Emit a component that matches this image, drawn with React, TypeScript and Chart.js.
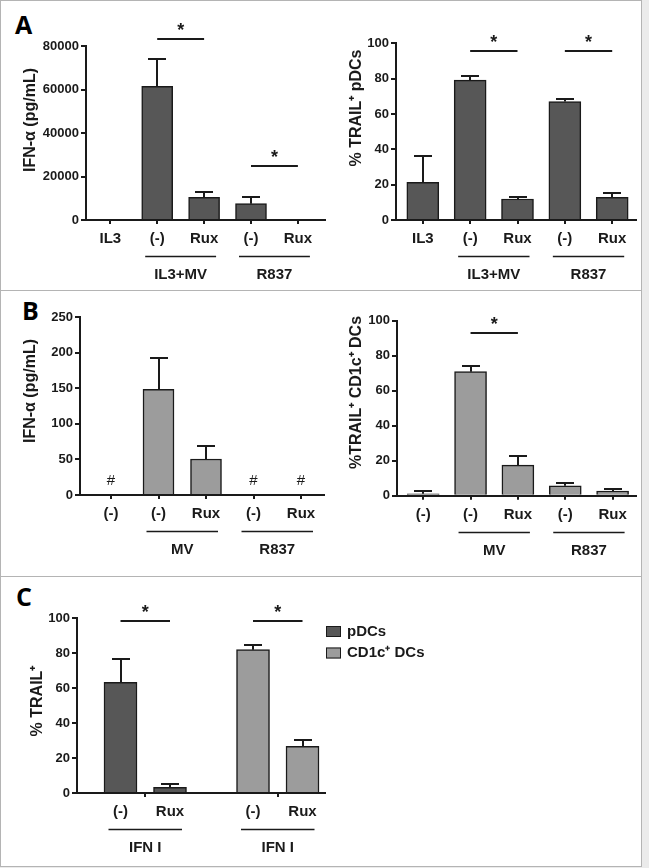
import React, { useEffect, useRef } from "react";
import { Chart, registerables } from "chart.js";

Chart.register(...registerables);

// ---------- data ----------
const A_LABELS = ["IL3", "(-)", "Rux", "(-)", "Rux"];
const A_GROUPS = ["IL3+MV", "R837"];
const A1_VALUES = [200, 61500, 10400, 7500, 200];
const A1_ERRORS = [0, 12500, 2600, 2900, 0];
const A1_TICKS = [0, 20000, 40000, 60000, 80000];
const A1_SIG_LEVELS = [83000, 25000];
const A2_VALUES = [21.3, 79.2, 11.9, 67, 12.8];
const A2_ERRORS = [14.9, 2.3, 1.1, 1.3, 2.3];
const A2_SIG_LEVELS = [95.6, 95.6];
const PCT_TICKS = [0, 20, 40, 60, 80, 100];

const B_LABELS = ["(-)", "(-)", "Rux", "(-)", "Rux"];
const B_GROUPS = ["MV", "R837"];
const B1_VALUES = [null, 148.7, 50.7, null, null];
const B1_ERRORS = [0, 44.5, 17.8, 0, 0];
const B1_NOT_DETECTED = [0, 3, 4];
const B1_TICKS = [0, 50, 100, 150, 200, 250];
const B2_VALUES = [1.1, 70.9, 17.5, 5.7, 2.7];
const B2_ERRORS = [1.6, 3.2, 5.2, 1.7, 1.1];
const B2_SIG_LEVELS = [93.1];

const C_LABELS = ["(-)", "Rux"];
const C_GROUP_LABEL = "IFN I";
const C_SERIES = ["pDCs", "CD1c\u207A DCs"];
const C_PDC_VALUES = [63.2, 3.2];
const C_PDC_ERRORS = [13.6, 1.9];
const C_CD1C_VALUES = [81.9, 26.7];
const C_CD1C_ERRORS = [2.9, 3.4];
const C_SIG_LEVELS = [98.3, 98.3];

// ---------- styles ----------
const FONT = "'Liberation Sans', Arial, sans-serif";
const INK = "#1a1a1a";
const DARK = "#575757";
const LIGHT = "#9c9c9c";
const CAP = 9;

type Geo = {
  x: number; y: number; w: number; h: number;
  left: number; right: number; top: number; bottom: number;
  first: number; step: number; bar: number;
};

type Spec = {
  geo: Geo;
  xs: number[];
  labels: string[];
  datasets: { label: string; values: (number | null)[]; errors: number[]; color: string }[];
  yMax: number;
  yTicks: number[];
  groups: { from: number; to: number; label: string }[];
  sig: { from: number; to: number; at: number }[];
  marks: number[];
  title: { text: string; x: number; y: number };
  legend?: { x: number; y: number; row: number };
  groupTicks?: number[];
};

function makeAnnot(s: Spec) {
  return {
    id: "annot",
    afterDatasetsDraw(chart: any) {
      const { ctx, chartArea } = chart;
      const xs = chart.scales.x;
      const ys = chart.scales.y;
      ctx.save();
      ctx.strokeStyle = INK;
      ctx.fillStyle = INK;
      ctx.lineWidth = 2;
      // error bars
      chart.data.datasets.forEach((ds: any, di: number) => {
        const meta = chart.getDatasetMeta(di);
        meta.data.forEach((el: any, i: number) => {
          const p = ds.data[i];
          const e = ds.errors[i];
          if (p.y == null || !e) return;
          const top = Math.round(ys.getPixelForValue(p.y + e));
          const cx = Math.round(el.x);
          ctx.beginPath();
          ctx.moveTo(cx, el.y);
          ctx.lineTo(cx, top);
          ctx.moveTo(cx - CAP, top);
          ctx.lineTo(cx + CAP, top);
          ctx.stroke();
        });
      });
      // significance
      s.sig.forEach((q) => {
        const x1 = xs.getPixelForValue(s.xs[q.from]);
        const x2 = xs.getPixelForValue(s.xs[q.to]);
        const y = Math.round(ys.getPixelForValue(q.at));
        ctx.lineWidth = 2;
        ctx.beginPath();
        ctx.moveTo(x1, y);
        ctx.lineTo(x2, y);
        ctx.stroke();
        ctx.font = `bold 18px ${FONT}`;
        ctx.textAlign = "center";
        ctx.textBaseline = "middle";
        ctx.fillText("*", (x1 + x2) / 2, y - 8);
      });
      // not detected marks
      s.marks.forEach((i) => {
        ctx.font = `15px ${FONT}`;
        ctx.textAlign = "center";
        ctx.textBaseline = "middle";
        ctx.fillText("#", xs.getPixelForValue(s.xs[i]), ys.getPixelForValue(0) - 14);
      });
      // group underlines + labels
      s.groups.forEach((gr) => {
        const x1 = xs.getPixelForValue(s.xs[gr.from]) - 12;
        const x2 = xs.getPixelForValue(s.xs[gr.to]) + 12;
        const y = Math.round(chartArea.bottom + 36) + 0.5;
        ctx.lineWidth = 1.5;
        ctx.beginPath();
        ctx.moveTo(x1, y);
        ctx.lineTo(x2, y);
        ctx.stroke();
        ctx.font = `bold 15px ${FONT}`;
        ctx.textAlign = "center";
        ctx.textBaseline = "middle";
        ctx.fillText(gr.label, (x1 + x2) / 2, chartArea.bottom + 55);
      });
      // y title
      ctx.save();
      ctx.translate(s.title.x, s.title.y);
      ctx.rotate(-Math.PI / 2);
      ctx.font = `bold 16px ${FONT}`;
      ctx.textAlign = "center";
      ctx.textBaseline = "middle";
      ctx.fillText(s.title.text, 0, 0);
      ctx.restore();
      // legend
      if (s.legend) {
        const lg = s.legend;
        chart.data.datasets.forEach((ds: any, i: number) => {
          const cy = lg.y + i * lg.row;
          ctx.fillStyle = ds.backgroundColor;
          ctx.fillRect(lg.x, cy - 5.5, 15, 11);
          ctx.lineWidth = 1;
          ctx.strokeStyle = INK;
          ctx.strokeRect(lg.x + 0.5, cy - 5, 14, 10);
          ctx.fillStyle = INK;
          ctx.font = `bold 15px ${FONT}`;
          ctx.textAlign = "left";
          ctx.textBaseline = "middle";
          ctx.fillText(ds.label, lg.x + 21, cy);
        });
      }
      ctx.restore();
    },
  };
}

function buildConfig(s: Spec): any {
  const g = s.geo;
  const xMin = -(g.first - g.left) / g.step;
  const xMax = (g.right - g.first) / g.step;
  const tickDefs = s.xs.map((v, i) => ({ value: v, label: s.labels[i], mark: !s.groupTicks }));
  if (s.groupTicks) s.groupTicks.forEach((v) => tickDefs.push({ value: v, label: "", mark: true }));
  tickDefs.sort((a, b) => a.value - b.value);
  return {
    type: "bar",
    data: {
      datasets: s.datasets.map((d) => ({
        label: d.label,
        data: d.values.map((v, i) => ({ x: s.xs[i], y: v })),
        errors: d.errors,
        backgroundColor: d.color,
        borderColor: INK,
        borderWidth: 1.5,
        barThickness: g.bar,
        skipNull: true,
      })),
    },
    options: {
      responsive: false,
      animation: false,
      events: [],
      layout: { padding: { top: g.top, left: 0, right: g.w - g.right, bottom: 0 } },
      plugins: { legend: { display: false }, tooltip: { enabled: false } },
      scales: {
        x: {
          type: "linear",
          min: xMin,
          max: xMax,
          bounds: "data",
          offset: false,
          afterBuildTicks: (sc: any) => {
            sc.ticks = tickDefs.map((t) => ({ value: t.value }));
          },
          afterFit: (sc: any) => {
            sc.height = g.h - g.bottom;
          },
          ticks: {
            autoSkip: false,
            maxRotation: 0,
            minRotation: 0,
            padding: 6,
            color: INK,
            font: { family: FONT, size: 15, weight: "bold" },
            callback: (_v: any, i: number) => tickDefs[i].label,
          },
          grid: {
            display: true,
            offset: false,
            drawOnChartArea: false,
            drawTicks: true,
            tickLength: 4,
            lineWidth: 2,
            color: (c: any) => (tickDefs[c.index] && tickDefs[c.index].mark ? INK : "rgba(0,0,0,0)"),
          },
          border: { display: true, color: INK, width: 2, z: 1 },
        },
        y: {
          type: "linear",
          min: 0,
          max: s.yMax,
          bounds: "data",
          afterBuildTicks: (sc: any) => {
            sc.ticks = s.yTicks.map((v) => ({ value: v }));
          },
          afterFit: (sc: any) => {
            sc.width = g.left;
          },
          ticks: {
            padding: 2,
            color: INK,
            font: { family: FONT, size: 13, weight: "bold" },
            callback: (v: any) => String(v),
          },
          grid: {
            display: true,
            drawOnChartArea: false,
            drawTicks: true,
            tickLength: 5,
            lineWidth: 2,
            color: INK,
          },
          border: { display: true, color: INK, width: 2, z: 1 },
        },
      },
    },
    plugins: [makeAnnot(s)],
  };
}

const IDX5 = [0, 1, 2, 3, 4];
const C_GROUP_OFFSET = 2.677;
const C_XS = [0, 1, C_GROUP_OFFSET, C_GROUP_OFFSET + 1];

const SPECS: Spec[] = [
  {
    geo: { x: 0, y: 0, w: 330, h: 290, left: 86, right: 325, top: 46, bottom: 220, first: 110.3, step: 46.9, bar: 31 },
    xs: IDX5,
    labels: A_LABELS,
    datasets: [{ label: "IFN-α", values: A1_VALUES, errors: A1_ERRORS, color: DARK }],
    yMax: 80000,
    yTicks: A1_TICKS,
    groups: [{ from: 1, to: 2, label: A_GROUPS[0] }, { from: 3, to: 4, label: A_GROUPS[1] }],
    sig: [{ from: 1, to: 2, at: A1_SIG_LEVELS[0] }, { from: 3, to: 4, at: A1_SIG_LEVELS[1] }],
    marks: [],
    title: { text: "IFN-α (pg/mL)", x: 31, y: 120 },
  },
  {
    geo: { x: 330, y: 0, w: 312, h: 290, left: 66, right: 306, top: 43.3, bottom: 220, first: 92.8, step: 47.35, bar: 32 },
    xs: IDX5,
    labels: A_LABELS,
    datasets: [{ label: "% TRAIL+ pDCs", values: A2_VALUES, errors: A2_ERRORS, color: DARK }],
    yMax: 100,
    yTicks: PCT_TICKS,
    groups: [{ from: 1, to: 2, label: A_GROUPS[0] }, { from: 3, to: 4, label: A_GROUPS[1] }],
    sig: [{ from: 1, to: 2, at: A2_SIG_LEVELS[0] }, { from: 3, to: 4, at: A2_SIG_LEVELS[1] }],
    marks: [],
    title: { text: "% TRAIL\u207A pDCs", x: 27, y: 108 },
  },
  {
    geo: { x: 0, y: 291, w: 330, h: 286, left: 80, right: 324, top: 26.3, bottom: 204, first: 111, step: 47.5, bar: 31 },
    xs: IDX5,
    labels: B_LABELS,
    datasets: [{ label: "IFN-α", values: B1_VALUES, errors: B1_ERRORS, color: LIGHT }],
    yMax: 250,
    yTicks: B1_TICKS,
    groups: [{ from: 1, to: 2, label: B_GROUPS[0] }, { from: 3, to: 4, label: B_GROUPS[1] }],
    sig: [],
    marks: B1_NOT_DETECTED,
    title: { text: "IFN-α (pg/mL)", x: 31, y: 100 },
  },
  {
    geo: { x: 330, y: 291, w: 312, h: 286, left: 67, right: 306, top: 29.7, bottom: 204.7, first: 93.2, step: 47.35, bar: 32 },
    xs: IDX5,
    labels: B_LABELS,
    datasets: [{ label: "%TRAIL+ CD1c+ DCs", values: B2_VALUES, errors: B2_ERRORS, color: LIGHT }],
    yMax: 100,
    yTicks: PCT_TICKS,
    groups: [{ from: 1, to: 2, label: B_GROUPS[0] }, { from: 3, to: 4, label: B_GROUPS[1] }],
    sig: [{ from: 1, to: 2, at: B2_SIG_LEVELS[0] }],
    marks: [],
    title: { text: "%TRAIL\u207A CD1c\u207A DCs", x: 27, y: 101.5 },
  },
  {
    geo: { x: 0, y: 577, w: 641, h: 289, left: 77, right: 325, top: 41, bottom: 216, first: 120.5, step: 49.5, bar: 33 },
    xs: C_XS,
    labels: [...C_LABELS, ...C_LABELS],
    datasets: [
      {
        label: C_SERIES[0],
        values: [...C_PDC_VALUES, ...C_CD1C_VALUES.map(() => null)],
        errors: [...C_PDC_ERRORS, ...C_CD1C_ERRORS.map(() => 0)],
        color: DARK,
      },
      {
        label: C_SERIES[1],
        values: [...C_PDC_VALUES.map(() => null), ...C_CD1C_VALUES],
        errors: [...C_PDC_ERRORS.map(() => 0), ...C_CD1C_ERRORS],
        color: LIGHT,
      },
    ],
    yMax: 100,
    yTicks: PCT_TICKS,
    groups: [{ from: 0, to: 1, label: C_GROUP_LABEL }, { from: 2, to: 3, label: C_GROUP_LABEL }],
    sig: [{ from: 0, to: 1, at: C_SIG_LEVELS[0] }, { from: 2, to: 3, at: C_SIG_LEVELS[1] }],
    marks: [],
    title: { text: "% TRAIL\u207A", x: 38, y: 124 },
    legend: { x: 326, y: 54.5, row: 21.5 },
    groupTicks: [0.5, C_GROUP_OFFSET + 0.5],
  },
];

function ChartBox({ spec }: { spec: Spec }) {
  const ref = useRef<HTMLCanvasElement>(null);
  useEffect(() => {
    const chart = new Chart(ref.current as HTMLCanvasElement, buildConfig(spec));
    return () => chart.destroy();
  }, [spec]);
  const g = spec.geo;
  return (
    <canvas
      ref={ref}
      width={g.w}
      height={g.h}
      style={{ position: "absolute", left: g.x, top: g.y, width: g.w, height: g.h, display: "block" }}
    />
  );
}

const letterStyle = (left: number, top: number): React.CSSProperties => ({
  position: "absolute",
  left,
  top,
  fontFamily: "'Open Sans', sans-serif",
  fontWeight: 700,
  fontSize: 25,
  lineHeight: "25px",
  color: "#000",
});

export default function App() {
  return (
    <div style={{ position: "absolute", left: 0, top: 0, width: 649, height: 868, background: "#ebebeb", overflow: "hidden" }}>
      <div
        style={{
          position: "absolute",
          left: 0,
          top: 0,
          width: 642,
          height: 867,
          background: "#fff",
          border: "1px solid #b4b4b4",
          boxSizing: "border-box",
        }}
      />
      <div style={{ position: "absolute", left: 0, top: 290, width: 642, height: 1, background: "#b4b4b4" }} />
      <div style={{ position: "absolute", left: 0, top: 576, width: 642, height: 1, background: "#b4b4b4" }} />
      <div style={letterStyle(15, 12)}>A</div>
      <div style={letterStyle(22, 298)}>B</div>
      <div style={letterStyle(16, 584)}>C</div>
      {SPECS.map((s, i) => (
        <ChartBox key={i} spec={s} />
      ))}
    </div>
  );
}
